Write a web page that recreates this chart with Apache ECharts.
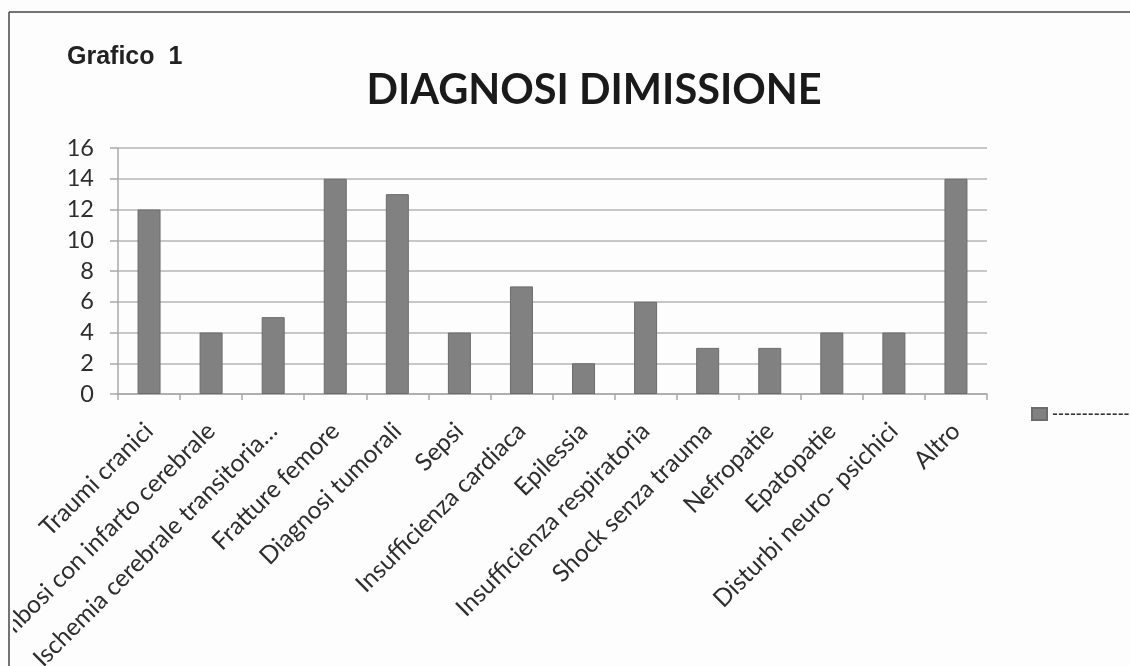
<!DOCTYPE html>
<html>
<head>
<meta charset="utf-8">
<script src="https://cdn.jsdelivr.net/npm/echarts@6/dist/echarts.min.js"></script>
<style>
html,body{margin:0;padding:0;background:#fdfdfd;}
#chart{width:1130px;height:666px;}
</style>
</head>
<body>
<div id="chart"></div>
<script>
const categories = ["Traumi cranici","Trombosi con infarto cerebrale","Ischemia cerebrale transitoria\u2026","Fratture femore","Diagnosi tumorali","Sepsi","Insufficienza cardiaca","Epilessia","Insufficienza respiratoria","Shock senza trauma","Nefropatie","Epatopatie","Disturbi neuro- psichici","Altro"];
const values = [12,4,5,14,13,4,7,2,6,3,3,4,4,14];
const yTicks = {min:0, max:16, interval:2};
const titleText = "DIAGNOSI DIMISSIONE";
const subTitle = "Grafico  1";
const seriesName = "Serie1";

const chart = echarts.init(document.getElementById('chart'));
chart.setOption({
  backgroundColor:'#fdfdfd',
  animation:false,
  title:[
    {text:subTitle,left:62,top:40,textStyle:{fontFamily:'Liberation Sans',fontWeight:'bold',fontSize:25,color:'#222'}},
    {text:titleText,left:589,top:65,textAlign:'center',textStyle:{fontFamily:'Lato',fontWeight:'bold',fontSize:41.5,color:'#1a1a1a'}}
  ],
  legend:{
    left:1026,top:401,itemWidth:15,itemHeight:12,itemGap:10,
    icon:'rect',
    formatter:function(){return '--------------';},
    textStyle:{fontFamily:'Lato',fontSize:16,color:'#333',fontWeight:'bold'}
  },
  grid:{left:118,right:143,top:148,bottom:272,containLabel:false,outerBoundsMode:'none'},
  xAxis:{
    type:'category',data:categories,
    axisLine:{lineStyle:{color:'#a8a8a8',width:1.5}},
    axisTick:{show:true,length:6,lineStyle:{color:'#a8a8a8',width:1.5}},
    axisLabel:{rotate:45,interval:0,margin:33,fontFamily:'Lato',fontSize:24.5,color:'#2e2e2e'}
  },
  yAxis:{
    type:'value',min:yTicks.min,max:yTicks.max,interval:yTicks.interval,
    axisLine:{show:true,lineStyle:{color:'#a8a8a8',width:1.5}},
    axisTick:{show:true,length:8,lineStyle:{color:'#a8a8a8',width:1.5}},
    splitLine:{lineStyle:{color:'#b4b4b4',width:1.5}},
    axisLabel:{margin:24,fontFamily:'Lato',fontSize:23.5,color:'#2e2e2e'}
  },
  series:[{
    name:seriesName,type:'bar',data:values,barWidth:23,
    itemStyle:{color:'#818181',borderColor:'#6c6c6c',borderWidth:1}
  }],
  graphic:[
    {type:'rect',z:100,shape:{x:0,y:0,width:13,height:666},style:{fill:'#fdfdfd'}},
    {type:'line',z:101,shape:{x1:9,y1:12,x2:9,y2:666},style:{stroke:'#444',lineWidth:1.5}},
    {type:'line',z:101,shape:{x1:9,y1:12,x2:1130,y2:12},style:{stroke:'#444',lineWidth:1.5}}
  ]
});
</script>
</body>
</html>
